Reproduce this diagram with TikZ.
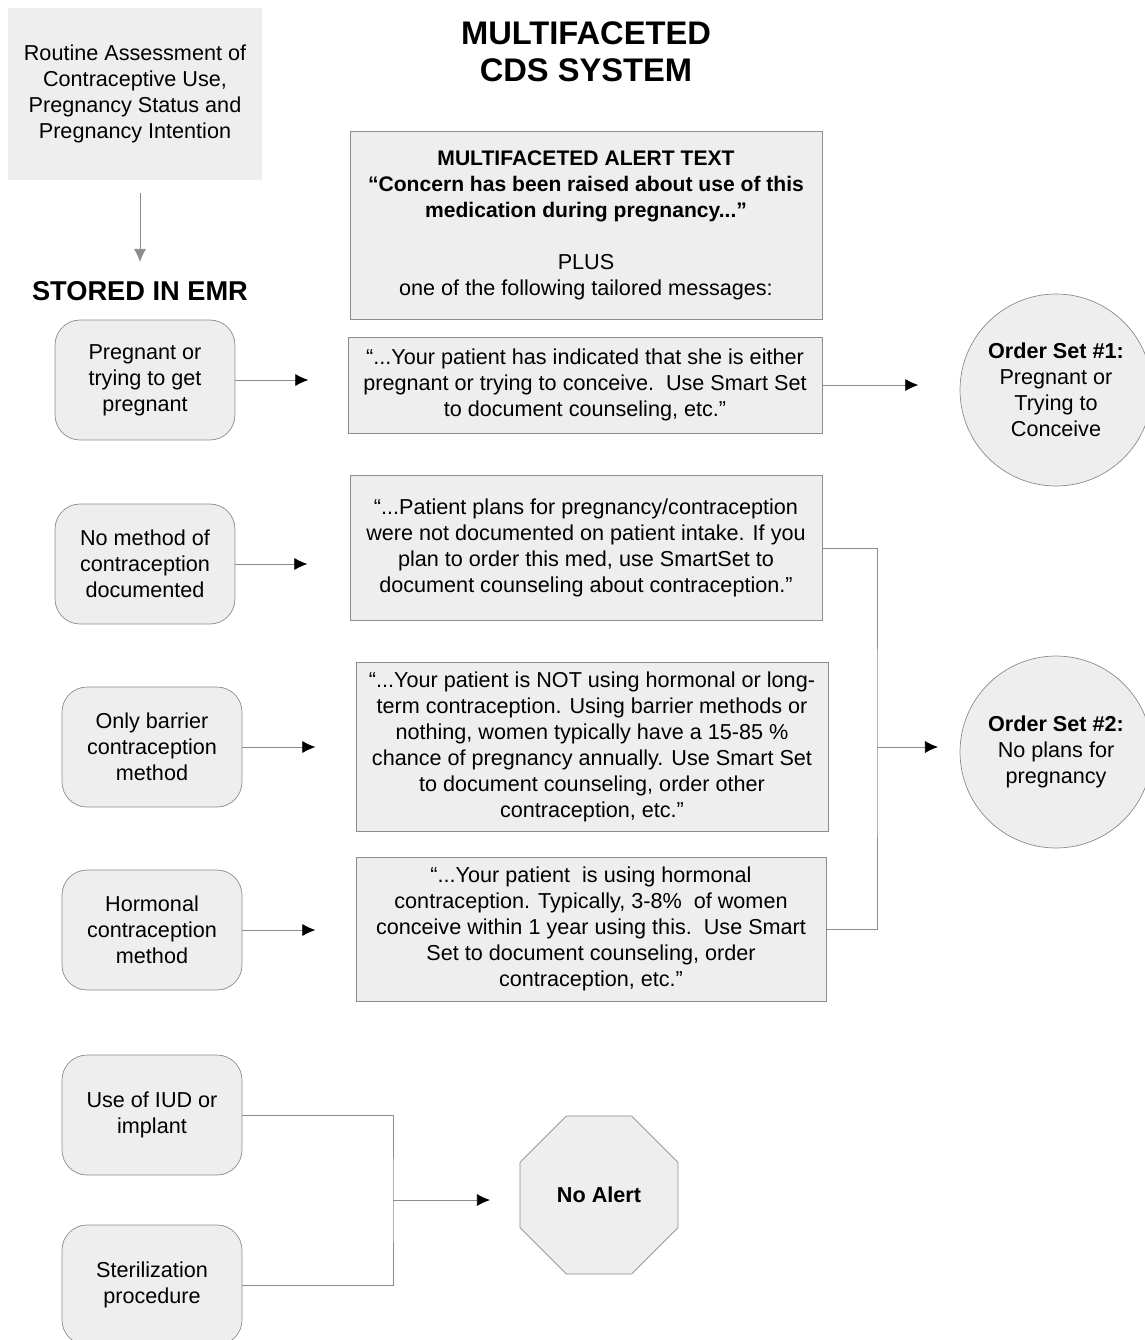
\documentclass[tikz,border=0pt]{standalone}
\usepackage{fontspec}
\setmainfont{Liberation Sans}
\usepackage{tikz}
\usetikzlibrary{shapes,arrows.meta,positioning}
\definecolor{boxfill}{HTML}{EEEEEE}
\definecolor{boxline}{HTML}{8C8C8C}
\newcommand{\alertbf}[1]{{\fontsize{12}{14.8}\selectfont\bfseries #1}}

\begin{document}
\begin{tikzpicture}[x=0.02cm, y=-0.02cm, >={Latex[black,length=0.26cm,width=0.24cm]},
	txt/.style={font=\fontsize{12.3}{14.8}\selectfont, align=center},
	state/.style={txt, draw=boxline, fill=boxfill, rounded corners=0.5cm, minimum width=3.6cm, minimum height=2.4cm},
	msg/.style={txt, draw=boxline, fill=boxfill, inner sep=0pt},
	orderset/.style={txt, circle, draw=boxline, fill=boxfill, minimum size=3.84cm, inner sep=0pt},
	line/.style={draw=boxline}]
	\useasboundingbox (0,0) rectangle (1145,1340);
	\clip (0,0) rectangle (1145,1340);
	% headings and the assessment block
	\node [txt, fill=boxfill, minimum width=5.1cm, minimum height=3.44cm] (assess) at (135,94)
		{Routine Assessment of\\Contraceptive Use,\\Pregnancy Status and\\Pregnancy Intention};
	\node [font=\fontsize{15.5}{18}\selectfont\bfseries] (stored) at (140,291) {STORED IN EMR};
	\node [font=\fontsize{18.6}{21}\selectfont\bfseries, align=center] (title) at (586,52) {MULTIFACETED\\CDS SYSTEM};
	% what is stored in the EMR
	\node [state] (preg) at (145,380) {Pregnant or\\trying to get\\pregnant};
	\node [state] (nomethod) at (145,564) {No method of\\contraception\\documented};
	\node [state] (barrier) at (152,747) {Only barrier\\contraception\\method};
	\node [state] (hormonal) at (152,930) {Hormonal\\contraception\\method};
	\node [state] (iud) at (152,1115) {Use of IUD or\\implant};
	\node [state] (steril) at (152,1285) {Sterilization\\procedure};
	% alert text and the tailored messages
	\node [msg, minimum width=9.44cm, minimum height=3.76cm] (alert) at (586,225)
		{\alertbf{MULTIFACETED ALERT TEXT}\\\alertbf{“Concern has been raised about use of this}\\\alertbf{medication during pregnancy...”}\\[14.8pt]PLUS\\one of the following tailored messages:};
	\node [msg, minimum width=9.48cm, minimum height=1.92cm] (pregmsg) at (585,385)
		{“...Your patient has indicated that she is either\\pregnant or trying to conceive.\ \ Use Smart Set\\to document counseling, etc."};
	\node [msg, minimum width=9.44cm, minimum height=2.9cm] (nomethodmsg) at (586,548)
		{“...Patient plans for pregnancy/contraception\\were not documented on patient intake. If you\\plan to order this med, use SmartSet to\\document counseling about contraception."};
	\node [msg, minimum width=9.44cm, minimum height=3.38cm] (barriermsg) at (592,747)
		{“...Your patient is NOT using hormonal or long-\\term contraception. Using barrier methods or\\nothing, women typically have a 15-85 \%\\chance of pregnancy annually. Use Smart Set\\to document counseling, order other\\contraception, etc."};
	\node [msg, minimum width=9.4cm, minimum height=2.88cm] (hormonalmsg) at (591,929)
		{“...Your patient\ \ is using hormonal\\contraception. Typically, 3-8\%\ \ of women\\conceive within 1 year using this.\ \ Use Smart\\Set to document counseling, order\\contraception, etc."};
	% outcomes
	\node [orderset] (set1) at (1056,390) {\textbf{Order Set \#1:}\\Pregnant or\\Trying to\\Conceive};
	\node [orderset] (set2) at (1056,752) {\textbf{Order Set \#2:}\\No plans for\\pregnancy};
	\node [txt, font=\fontsize{12.3}{14.8}\selectfont\bfseries, regular polygon, regular polygon sides=8, draw=boxline, fill=boxfill, minimum size=3.42cm, inner sep=0pt] (noalert) at (599,1195) {No Alert};
	% arrow ends and junctions
	\coordinate (assessout) at (140,193);
	\coordinate [below=1.38cm of assessout] (storedin);
	\coordinate [right=1.46cm of preg] (pregin);
	\coordinate [right=1.44cm of nomethod] (nomethodin);
	\coordinate [right=1.46cm of barrier] (barrierin);
	\coordinate [right=1.46cm of hormonal] (hormonalin);
	\coordinate [right=1.92cm of pregmsg] (set1in);
	\coordinate (bus) at (877,747);
	\coordinate [right=1.22cm of bus] (set2in);
	\coordinate (nabus) at (393,1200);
	\coordinate [right=1.94cm of nabus] (noalertin);
	% connectors
	\draw [boxline, -{Latex[boxline,length=0.26cm,width=0.24cm]}] (assessout) -- (storedin);
	\draw [line, ->] (preg) -- (pregin);
	\draw [line, ->] (nomethod) -- (nomethodin);
	\draw [line, ->] (barrier) -- (barrierin);
	\draw [line, ->] (hormonal) -- (hormonalin);
	\draw [line, ->] (pregmsg) -- (set1in);
	\draw [line] (nomethodmsg) -| (bus) |- (hormonalmsg);
	\draw [line, ->] (bus) -- (set2in);
	\draw [line] (iud) -| (nabus) |- (steril);
	\draw [line, ->] (nabus) -- (noalertin);
\end{tikzpicture}
\end{document}
